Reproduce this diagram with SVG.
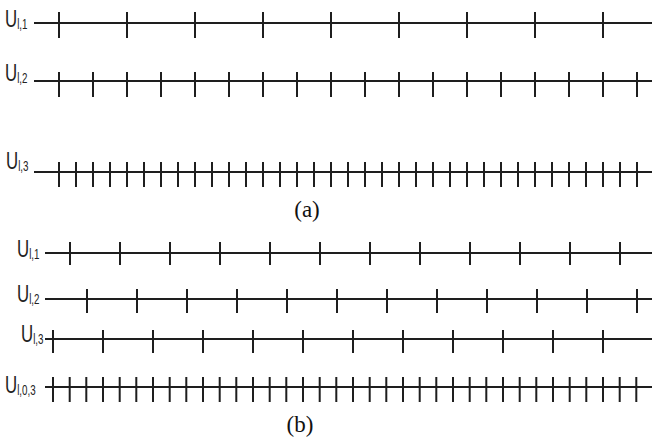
<svg xmlns="http://www.w3.org/2000/svg" width="652" height="445" viewBox="0 0 652 445">
<style>
.axis{stroke:#1e1e1e;stroke-width:2.2;fill:none}
.tick{stroke:#1e1e1e;stroke-width:2;fill:none}
.lab{font-family:"Liberation Sans",Arial,sans-serif;font-size:24px;fill:#222}
.sub{font-size:14px}
.cap{font-family:"Liberation Serif","Times New Roman",serif;font-size:23px;fill:#111}
</style>
<rect width="652" height="445" fill="#fff"/>
<g id="a-row1">
<line class="axis" x1="34" y1="23" x2="652" y2="23"/>
<path class="tick" d="M59 12V38M127 12V38M195 12V38M263 12V38M331 12V38M399 12V38M467 12V38M535 12V38M603 12V38"/>
<g transform="translate(5,27) scale(0.7,1)"><text class="lab">U<tspan class="sub" dy="2">l,1</tspan></text></g>
</g>
<g id="a-row2">
<line class="axis" x1="34" y1="81" x2="652" y2="81"/>
<path class="tick" d="M59 72V97M93 72V97M127 72V97M161 72V97M195 72V97M229 72V97M263 72V97M297 72V97M331 72V97M365 72V97M399 72V97M433 72V97M467 72V97M501 72V97M535 72V97M569 72V97M603 72V97M637 72V97"/>
<g transform="translate(5,81) scale(0.7,1)"><text class="lab">U<tspan class="sub" dy="2">l,2</tspan></text></g>
</g>
<g id="a-row3">
<line class="axis" x1="34" y1="172" x2="652" y2="172"/>
<path class="tick" d="M59 162V187M76 162V187M93 162V187M110 162V187M127 162V187M144 162V187M161 162V187M178 162V187M195 162V187M212 162V187M229 162V187M246 162V187M263 162V187M280 162V187M297 162V187M314 162V187M331 162V187M348 162V187M365 162V187M382 162V187M399 162V187M416 162V187M433 162V187M450 162V187M467 162V187M484 162V187M501 162V187M518 162V187M535 162V187M552 162V187M569 162V187M586 162V187M603 162V187M620 162V187M637 162V187"/>
<g transform="translate(6,169) scale(0.7,1)"><text class="lab">U<tspan class="sub" dy="2">l,3</tspan></text></g>
</g>
<text id="cap-a" class="cap" x="307" y="217" text-anchor="middle">(a)</text>
<g id="b-row1">
<line class="axis" x1="45" y1="253" x2="652" y2="253"/>
<path class="tick" d="M70 242V265M120 242V265M170 242V265M220 242V265M270 242V265M320 242V265M370 242V265M420 242V265M470 242V265M520 242V265M570 242V265M620 242V265"/>
<g transform="translate(17,257) scale(0.7,1)"><text class="lab">U<tspan class="sub" dy="2">l,1</tspan></text></g>
</g>
<g id="b-row2">
<line class="axis" x1="45" y1="299" x2="652" y2="299"/>
<path class="tick" d="M87 289V313M137 289V313M187 289V313M237 289V313M287 289V313M337 289V313M387 289V313M437 289V313M487 289V313M537 289V313M587 289V313M637 289V313"/>
<g transform="translate(17,302) scale(0.7,1)"><text class="lab">U<tspan class="sub" dy="2">l,2</tspan></text></g>
</g>
<g id="b-row3">
<line class="axis" x1="45" y1="339" x2="652" y2="339"/>
<path class="tick" d="M53 330V353M103 330V353M153 330V353M203 330V353M253 330V353M303 330V353M353 330V353M403 330V353M453 330V353M503 330V353M553 330V353M603 330V353"/>
<g transform="translate(21,342) scale(0.7,1)"><text class="lab">U<tspan class="sub" dy="2">l,3</tspan></text></g>
</g>
<g id="b-row4">
<line class="axis" x1="45" y1="387" x2="652" y2="387"/>
<path class="tick" d="M53 377V402M69.7 377V402M86.3 377V402M103 377V402M119.7 377V402M136.3 377V402M153 377V402M169.7 377V402M186.3 377V402M203 377V402M219.7 377V402M236.3 377V402M253 377V402M269.7 377V402M286.3 377V402M303 377V402M319.7 377V402M336.3 377V402M353 377V402M369.7 377V402M386.3 377V402M403 377V402M419.7 377V402M436.3 377V402M453 377V402M469.7 377V402M486.3 377V402M503 377V402M519.7 377V402M536.3 377V402M553 377V402M569.7 377V402M586.3 377V402M603 377V402M619.7 377V402M636.3 377V402"/>
<g transform="translate(5,393) scale(0.7,1)"><text class="lab">U<tspan class="sub" dy="2">l,0,3</tspan></text></g>
</g>
<text id="cap-b" class="cap" x="300" y="432" text-anchor="middle">(b)</text>
</svg>
